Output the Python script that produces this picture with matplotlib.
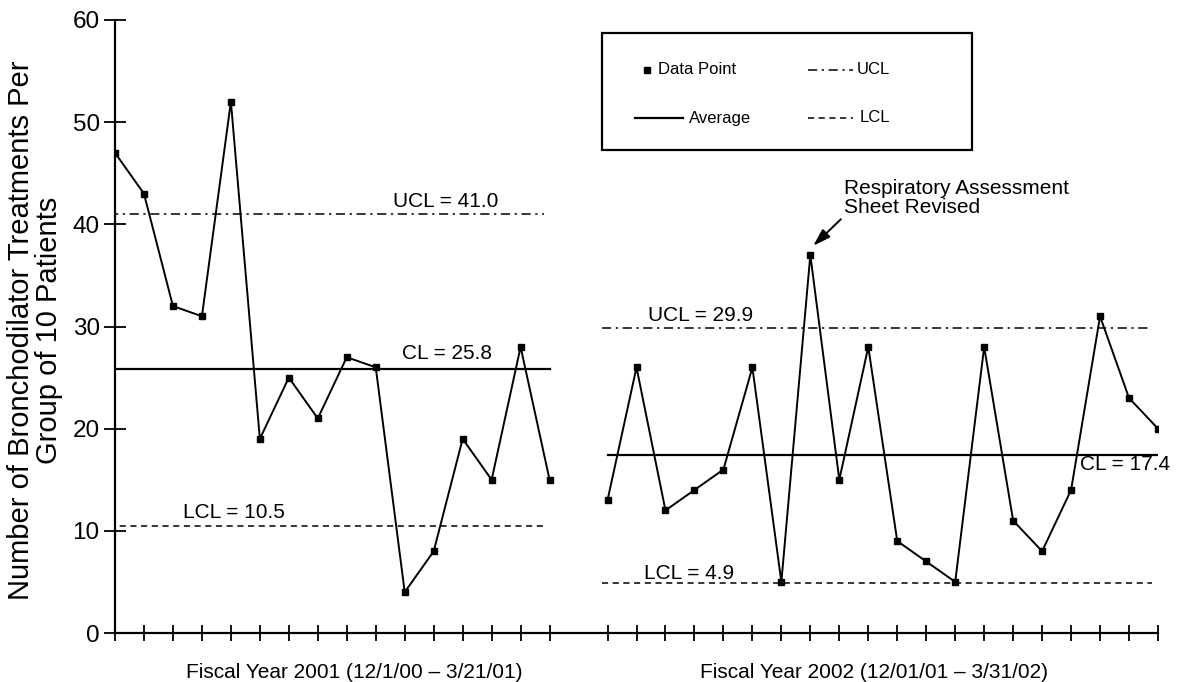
import matplotlib
matplotlib.use("Agg")
import matplotlib.pyplot as plt
from matplotlib.lines import Line2D
from matplotlib.patches import Rectangle

plt.rcParams["font.family"] = ["Liberation Sans", "DejaVu Sans"]

# FY2001 and FY2002 subgroup counts (per 10 patients)
fy2001 = [47, 43, 32, 31, 52, 19, 25, 21, 27, 26, 4, 8, 19, 15, 28, 15]
fy2002 = [13, 26, 12, 14, 16, 26, 5, 37, 15, 28, 9, 7, 5, 28, 11, 8, 14, 31, 23, 20]

# control limits per period: (UCL, CL, LCL)
limits_2001 = (41.0, 25.8, 10.5)
limits_2002 = (29.9, 17.4, 4.9)

period_labels = ["Fiscal Year 2001 (12/1/00 \u2013 3/21/01)",
                 "Fiscal Year 2002 (12/01/01 \u2013 3/31/02)"]
annotation = "Respiratory Assessment\nSheet Revised"
legend_labels = ["Data Point", "UCL", "Average", "LCL"]

W, H = 1177, 682

gap = 1  # one empty slot between the two periods
x1 = list(range(len(fy2001)))
x2 = list(range(len(fy2001) + gap, len(fy2001) + gap + len(fy2002)))

fig = plt.figure(figsize=(W / 100, H / 100), dpi=100)
ax = fig.add_axes([115 / W, 1 - 633 / H, 1043 / W, 613 / H])

ucl_style = dict(color="black", lw=1.1, linestyle=(0, (6, 3, 1.5, 3)))
cl_style = dict(color="black", lw=1.6, linestyle="-")
lcl_style = dict(color="black", lw=1.1, linestyle=(0, (4, 3)))

for xs, ys, (ucl, cl, lcl) in [(x1, fy2001, limits_2001), (x2, fy2002, limits_2002)]:
    ax.plot([xs[0] - 0.2, xs[-1] - 0.2], [ucl, ucl], **ucl_style)
    ax.plot([xs[0], xs[-1]], [cl, cl], **cl_style)
    ax.plot([xs[0] - 0.2, xs[-1] - 0.2], [lcl, lcl], **lcl_style)
    ax.plot(xs, ys, color="black", lw=1.4, marker="s", ms=4.5, mfc="black", mec="black")

# limit labels
fs = 15
ax.text(11.4, limits_2001[0] + 0.7, f"UCL = {limits_2001[0]:.1f}", fontsize=fs, ha="center", va="baseline")
ax.text(9.9, limits_2001[1] + 1.0, f"CL = {limits_2001[1]:.1f}", fontsize=fs, ha="left", va="baseline")
ax.text(4.1, limits_2001[2] + 1.3, f"LCL = {limits_2001[2]:.1f}", fontsize=fs, ha="center", va="center")
ax.text(20.2, limits_2002[0] + 1.2, f"UCL = {limits_2002[0]:.1f}", fontsize=fs, ha="center", va="center")
ax.text(33.3, limits_2002[1] - 0.9, f"CL = {limits_2002[1]:.1f}", fontsize=fs, ha="left", va="center")
ax.text(19.8, limits_2002[2] + 0.9, f"LCL = {limits_2002[2]:.1f}", fontsize=fs, ha="center", va="center")

ax.annotate(annotation, xy=(24.1, fy2002[7] + 0.9), xytext=(25.15, 41.15),
            fontsize=fs, ha="left", va="baseline", linespacing=0.95,
            arrowprops=dict(arrowstyle="-|>,head_length=0.7,head_width=0.22",
                            color="black", lw=1.4, relpos=(0, 0),
                            shrinkA=0, shrinkB=0))

# period captions under the axis
ax.text(8.25, -3.9, period_labels[0], fontsize=fs, ha="center", va="center")
ax.text(26.2, -3.9, period_labels[1], fontsize=fs, ha="center", va="center")

ax.set_xlim(0, x2[-1])
ax.set_ylim(0, 60)
ax.set_yticks(range(0, 61, 10))
ax.set_xticks(x1 + x2)
ax.set_xticklabels([])
ax.tick_params(axis="y", direction="inout", length=16, width=1.3, labelsize=17.5, pad=3)
ax.tick_params(axis="x", direction="inout", length=12, width=1.3)
for side in ["top", "right"]:
    ax.spines[side].set_visible(False)
for side in ["left", "bottom"]:
    ax.spines[side].set_linewidth(1.6)

ax.text(35.5 / W, 1 - 330 / H, "Number of Bronchodilator Treatments Per\nGroup of 10 Patients",
        transform=fig.transFigure, rotation=90, fontsize=21, ha="center", va="center",
        multialignment="center", linespacing=1.0)

# legend box, drawn by hand to copy the original layout
def fx(px):
    return px / W


def fy(py):
    return 1 - py / H


fig.add_artist(Rectangle((fx(602), fy(150)), fx(972) - fx(602), fy(33) - fy(150),
                         transform=fig.transFigure, fill=False, lw=1.6, ec="black"))
leg_fs = 12
# row 1
fig.add_artist(Line2D([fx(647)], [fy(70)], marker="s", ms=4.5, color="black",
                      linestyle="none", transform=fig.transFigure))
fig.text(fx(658), fy(70), legend_labels[0], fontsize=leg_fs, va="center")
fig.add_artist(Line2D([fx(808), fx(853)], [fy(70), fy(70)], transform=fig.transFigure, **ucl_style))
fig.text(fx(857), fy(70), legend_labels[1], fontsize=leg_fs, va="center")
# row 2
fig.add_artist(Line2D([fx(635), fx(683)], [fy(118), fy(118)], transform=fig.transFigure, **cl_style))
fig.text(fx(689), fy(118), legend_labels[2], fontsize=leg_fs, va="center")
fig.add_artist(Line2D([fx(808), fx(853)], [fy(118), fy(118)], transform=fig.transFigure, **lcl_style))
fig.text(fx(860), fy(118), legend_labels[3], fontsize=leg_fs, va="center")

fig.savefig("out.png", dpi=100)
